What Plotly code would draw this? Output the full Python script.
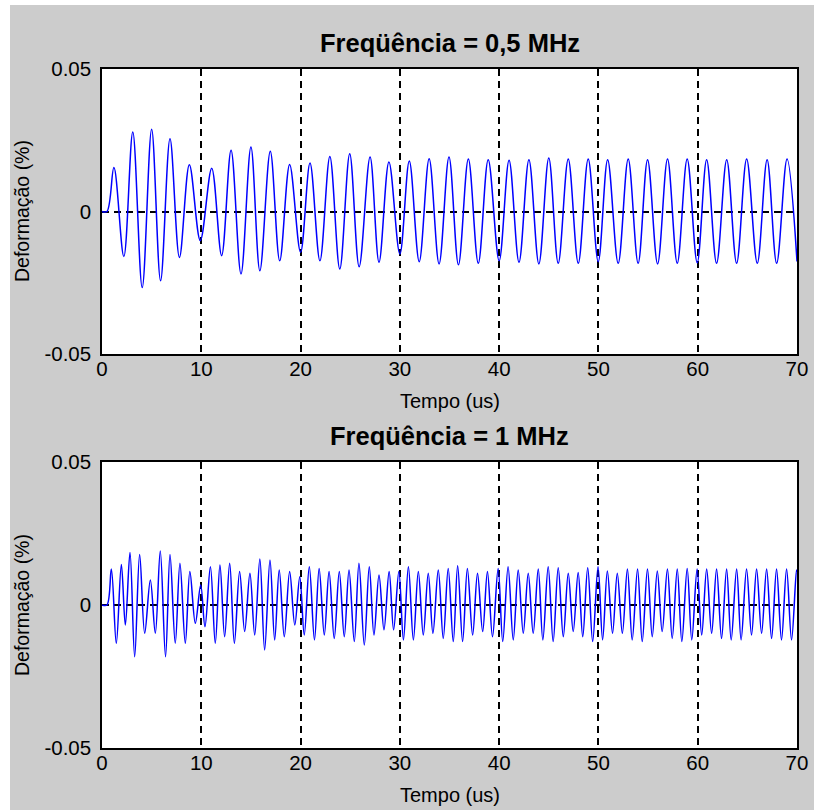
import plotly.graph_objects as go

# ---------------- data (extrema) ----------------
t_05 = [0, 0.5, 1.2, 2.2, 3.1, 4.05, 5.0, 5.9, 6.85, 7.8, 8.8, 9.9, 11.05, 12.05,
        13.0, 14.0, 15.0, 15.9, 16.95, 17.9, 18.9, 20.0, 20.95, 21.95, 22.95, 23.95,
        24.95, 25.9, 27.0, 27.9, 28.9, 30.0, 30.95, 31.95, 32.95, 33.95, 34.95, 35.9,
        36.9, 37.9, 38.9, 40.0, 41.0, 42.0, 43.0, 44.0, 45.0, 45.95, 46.96, 47.97,
        48.97, 49.98, 50.93, 51.99, 53.0, 54.0, 54.95, 55.96, 56.96, 57.94, 58.94,
        59.95, 60.9, 61.9, 62.92, 63.92, 64.93, 66.0, 66.99, 67.95, 69.0, 70.0]
v_05 = [0, 0, 0.0154, -0.0158, 0.0279, -0.0267, 0.0289, -0.0243, 0.0255, -0.0161,
        0.0164, -0.0102, 0.0152, -0.0155, 0.0215, -0.0219, 0.0226, -0.0208, 0.0211,
        -0.0173, 0.0165, -0.0143, 0.0170, -0.0173, 0.0193, -0.0202, 0.0203, -0.0194,
        0.0191, -0.0178, 0.0174, -0.0149, 0.0177, -0.0176, 0.0185, -0.0184, 0.0191,
        -0.0187, 0.0184, -0.0182, 0.0182, -0.0173, 0.0180, -0.0178, 0.0182, -0.0184,
        0.0188, -0.0182, 0.0184, -0.0182, 0.0184, -0.0176, 0.0182, -0.0182, 0.0184,
        -0.0182, 0.0182, -0.0184, 0.0184, -0.0182, 0.0184, -0.0180, 0.0182, -0.0182,
        0.0182, -0.0182, 0.0184, -0.0182, 0.0182, -0.0182, 0.0184, -0.0175]

t_1 = [0, 0.5, 0.94, 1.44, 1.95, 2.35, 2.82, 3.29, 3.79, 4.30, 4.87, 5.37, 5.87, 6.40,
       6.85, 7.38, 7.85, 8.39, 8.85, 9.40, 9.94, 10.37, 10.92, 11.41, 11.88, 12.35,
       12.86, 13.33, 13.86, 14.37, 14.9, 15.38, 15.9, 16.38, 16.92, 17.39, 17.85,
       18.36, 18.9, 19.42, 19.92, 20.37, 20.88, 21.4, 21.87, 22.39, 22.87, 23.39,
       23.9, 24.4, 24.88, 25.41, 25.88, 26.42, 26.92, 27.39, 27.9, 28.4, 28.92, 29.37,
       29.9, 30.36, 30.86, 31.36, 31.86, 32.36, 32.86, 33.33, 33.87, 34.37, 34.87,
       35.38, 35.82, 36.32, 36.8, 37.33, 37.82, 38.34, 38.82, 39.33, 39.9, 40.36,
       40.9, 41.42, 41.92, 42.43, 42.93, 43.43, 43.94, 44.4, 44.94, 45.44, 45.95,
       46.46, 46.96, 47.46, 47.96, 48.42, 48.92, 49.42, 49.96, 50.42, 50.9, 51.42,
       51.9, 52.41, 52.92, 53.4, 53.94, 54.41, 54.94, 55.42, 55.93, 56.42, 56.95,
       57.43, 57.94, 58.4, 58.94, 59.4, 59.94, 60.4, 60.9, 61.4, 61.9, 62.4, 62.91,
       63.37, 63.92, 64.37, 64.92, 65.42, 65.93, 66.43, 66.94, 67.44, 67.94, 68.44,
       68.95, 69.45, 69.95, 70.0]
v_1 = [0, 0, 0.0126, -0.0134, 0.0142, -0.0070, 0.0184, -0.0181, 0.0177, -0.0099,
       0.0087, -0.0099, 0.0189, -0.0181, 0.0177, -0.0134, 0.0146, -0.0134, 0.0117,
       -0.0064, 0.0070, -0.0076, 0.0134, -0.0134, 0.0140, -0.0111, 0.0146, -0.0134,
       0.0117, -0.0093, 0.0111, -0.0105, 0.0161, -0.0157, 0.0157, -0.0122, 0.0122,
       -0.0111, 0.0117, -0.0070, 0.0099, -0.0105, 0.0134, -0.0122, 0.0128, -0.0105,
       0.0117, -0.0117, 0.0117, -0.0111, 0.0122, -0.0128, 0.0146, -0.0140, 0.0134,
       -0.0105, 0.0105, -0.0087, 0.0117, -0.0087, 0.0117, -0.0122, 0.0134, -0.0122,
       0.0117, -0.0105, 0.0111, -0.0099, 0.0122, -0.0117, 0.0128, -0.0128, 0.0137,
       -0.0128, 0.0128, -0.0105, 0.0111, -0.0093, 0.0117, -0.0111, 0.0128, -0.0128,
       0.0134, -0.0122, 0.0122, -0.0099, 0.0111, -0.0099, 0.0126, -0.0122, 0.0134,
       -0.0128, 0.0130, -0.0111, 0.0111, -0.0093, 0.0114, -0.0111, 0.0130, -0.0128,
       0.0134, -0.0122, 0.0119, -0.0099, 0.0111, -0.0099, 0.0126, -0.0122, 0.0126,
       -0.0128, 0.0126, -0.0111, 0.0119, -0.0093, 0.0126, -0.0117, 0.0126, -0.0128,
       0.0128, -0.0122, 0.0126, -0.0105, 0.0126, -0.0099, 0.0126, -0.0117, 0.0126,
       -0.0122, 0.0126, -0.0122, 0.0126, -0.0105, 0.0126, -0.0099, 0.0126, -0.0117,
       0.0126, -0.0122, 0.0126, -0.0122, 0.0122, 0.0115]

x_ticks = [0, 10, 20, 30, 40, 50, 60, 70]
y_ticks = [-0.05, 0, 0.05]
y_tick_text = ["-0.05", "0", "0.05"]
titles = ["Freqüência = 0,5 MHz", "Freqüência = 1 MHz"]
x_label = "Tempo (us)"
y_label = "Deformação (%)"

# ---------------- figure ----------------
# The figure fills the whole 814x810 window (the page's body margin is removed
# after plotting); pixel positions below are window positions.
W, H = 814, 810
FONT = "Liberation Sans, Arial, sans-serif"
GRAY = "#cccccc"


def px_x(x):
    return x / W


def px_y(y):
    return 1 - y / H


fig = go.Figure()
fig.add_trace(go.Scatter(x=t_05, y=v_05, mode="lines", xaxis="x", yaxis="y",
                         line=dict(color="#0000ff", width=1.5, shape="spline", smoothing=1.0),
                         showlegend=False, hoverinfo="skip"))
fig.add_trace(go.Scatter(x=t_1, y=v_1, mode="lines", xaxis="x2", yaxis="y2",
                         line=dict(color="#0000ff", width=1.5, shape="spline", smoothing=1.0),
                         showlegend=False, hoverinfo="skip"))

xdom = [px_x(102), px_x(797)]
ydoms = [[px_y(354), px_y(69)], [px_y(748), px_y(462)]]

grid_kw = dict(showgrid=True, gridcolor="#000000", gridwidth=2, griddash="7px,5px",
               zeroline=False, showline=True, linecolor="#000000", linewidth=1.5,
               mirror=True, ticks="", fixedrange=True, automargin=False,
               ticklabeloverflow="allow")
common_x = dict(range=[0, 70], tickvals=x_ticks,
                tickfont=dict(family=FONT, size=20.5, color="#000000"),
                ticklabelstandoff=-4, **grid_kw)
common_y = dict(range=[-0.05, 0.05], tickvals=y_ticks, ticktext=y_tick_text,
                tickfont=dict(family=FONT, size=20.5, color="#000000"),
                ticklabelstandoff=5, **grid_kw)

fig.update_layout(
    width=W, height=H, autosize=False,
    margin=dict(l=0, r=0, t=0, b=0, pad=0, autoexpand=False),
    paper_bgcolor=GRAY, plot_bgcolor="#ffffff",
    hovermode=False, dragmode=False,
    xaxis=dict(domain=xdom, anchor="y", **common_x),
    yaxis=dict(domain=ydoms[0], anchor="x", **common_y),
    xaxis2=dict(domain=xdom, anchor="y2", **common_x),
    yaxis2=dict(domain=ydoms[1], anchor="x2", **common_y),
)

annotations = []
cx = px_x((102 + 797) / 2)
for i, (ty, xl_y) in enumerate([(43, 401), (436, 795)]):
    annotations.append(dict(text="<b>%s</b>" % titles[i], x=cx, y=px_y(ty), xref="paper",
                            yref="paper", showarrow=False, xanchor="center", yanchor="middle",
                            font=dict(family=FONT, size=25.5, color="#000000")))
    annotations.append(dict(text=x_label, x=cx, y=px_y(xl_y), xref="paper", yref="paper",
                            showarrow=False, xanchor="center", yanchor="middle",
                            font=dict(family=FONT, size=20, color="#000000")))
for yc in [211, 605]:
    annotations.append(dict(text=y_label, x=px_x(22), y=px_y(yc), xref="paper", yref="paper",
                            showarrow=False, xanchor="center", yanchor="middle", textangle=-90,
                            font=dict(family=FONT, size=19.5, color="#000000")))
fig.update_layout(annotations=annotations)

# light window border on the left and top edges, as in the reference
fig.update_layout(shapes=[
    dict(type="rect", xref="paper", yref="paper", x0=0, x1=px_x(10), y0=0, y1=1,
         fillcolor="#ffffff", line=dict(width=0), layer="above"),
    dict(type="rect", xref="paper", yref="paper", x0=0, x1=1, y0=px_y(5), y1=1,
         fillcolor="#ffffff", line=dict(width=0), layer="above"),
])

fig.write_html(
    "out.html",
    config={"displayModeBar": False},
    post_script="document.body.style.margin='0px';document.body.style.overflow='hidden';",
)
